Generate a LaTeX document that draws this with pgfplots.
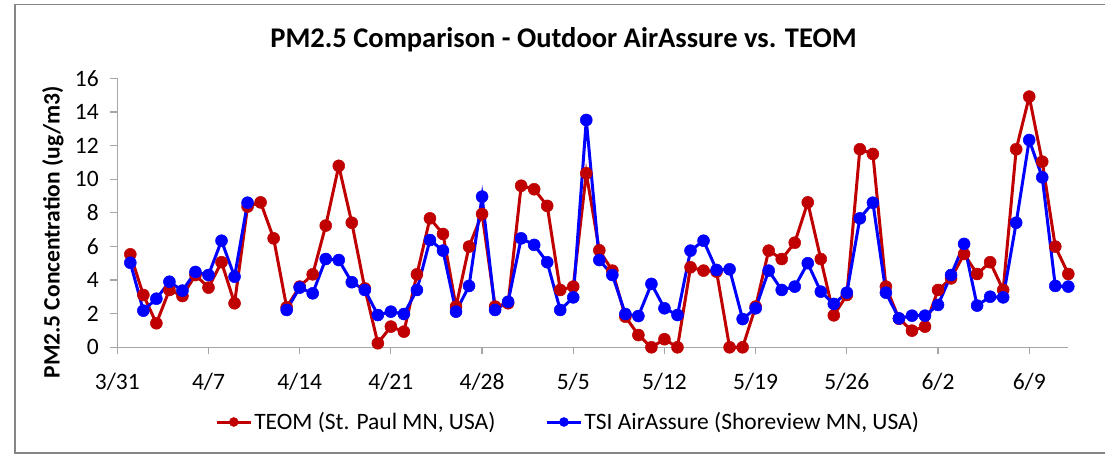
\documentclass[border=0pt]{standalone}
\usepackage{fontspec}
\setmainfont{Carlito}
\usepackage{pgfplots}
\pgfplotsset{compat=1.18}
\definecolor{teom}{HTML}{C00000}
\definecolor{tsi}{HTML}{0000FF}
\definecolor{axgray}{HTML}{A6A6A6}
\definecolor{framegray}{HTML}{868686}
\begin{document}
\begin{tikzpicture}[x=1pt,y=1pt]
\path[use as bounding box] (0,0) rectangle (1105,455);
\draw[framegray,line width=1.5pt] (1112,450.7) -- (15,450.7) -- (15,2) -- (1112,2);
\node[font=\bfseries\fontsize{28.5}{34}\selectfont] at (563.5,415) {PM2.5 Comparison - Outdoor AirAssure vs. TEOM};
\begin{axis}[
  at={(117.3pt,107.7pt)}, anchor=south west,
  scale only axis, width=951pt, height=269pt,
  xmin=0, xmax=73, ymin=0, ymax=16,
  clip=false,
  axis lines*=left,
  axis line style={axgray, line width=1.2pt},
  xtick={0,7,...,70},
  xticklabels={3/31,4/7,4/14,4/21,4/28,5/5,5/12,5/19,5/26,6/2,6/9},
  ytick={0,2,...,16},
  tick align=outside, major tick length=7pt,
  tick style={axgray, line width=1.2pt},
  tick label style={font=\fontsize{23.5}{28}\selectfont},
  yticklabel style={xshift=-8pt},
  xticklabel style={yshift=-15pt},
  /pgf/number format/assume math mode=true,
  ylabel={PM2.5 Concentration (ug/m3)},
  ylabel style={font=\bfseries\fontsize{23.5}{28}\selectfont, at={(axis description cs:-0.0676,0.427)}, anchor=center},
  unbounded coords=jump,
  legend style={draw=none, fill=none, legend columns=2, font=\fontsize{23.5}{28}\selectfont,
    at={(axis description cs:0.474,-0.2777)}, anchor=center,
    /tikz/every even column/.append style={column sep=48pt}},
  legend image code/.code={\draw[mark repeat=2,mark phase=2,#1,mark size=4.5pt] plot coordinates {(0pt,0pt) (17pt,0pt) (34pt,0pt)};},
]
\addplot[teom, line width=3pt, mark=*, mark size=6pt, mark options={solid, line width=0.5pt}] coordinates {
(1,5.53) (2,3.11) (3,1.43) (4,3.41) (5,3.05) (6,4.30) (7,3.55) (8,5.06) (9,2.62) (10,8.37)
(11,8.62) (12,6.48) (13,2.38) (14,3.61) (15,4.34) (16,7.24) (17,10.79) (18,7.41) (19,3.5) (20,0.24)
(21,1.23) (22,0.93) (23,4.34) (24,7.67) (25,6.74) (26,2.42) (27,5.99) (28,7.93) (29,2.42) (30,2.62)
(31,9.61) (32,9.40) (33,8.41) (34,3.41) (35,3.61) (36,10.35) (37,5.77) (38,4.56) (39,1.82) (40,0.73)
(41,0.0) (42,0.48) (43,0.0) (44,4.76) (45,4.56) (46,4.5) (47,0.0) (48,0.0) (49,2.42) (50,5.75)
(51,5.25) (52,6.22) (53,8.62) (54,5.25) (55,1.90) (56,3.11) (57,11.78) (58,11.50) (59,3.61) (60,1.7)
(61,0.99) (62,1.23) (63,3.41) (64,4.10) (65,5.55) (66,4.36) (67,5.06) (68,3.41) (69,11.78) (70,14.91)
(71,11.04) (72,5.99) (73,4.36)
};
\addlegendentry{TEOM (St. Paul MN, USA)}
\addplot[tsi, line width=3pt, mark=*, mark size=6pt, mark options={solid, line width=0.5pt}] coordinates {
(1,5.03) (2,2.18) (3,2.89) (4,3.90) (5,3.37) (6,4.48) (7,4.30) (8,6.34) (9,4.20) (10,8.60)
(11,nan) (12,nan) (13,2.22) (14,3.55) (15,3.21) (16,5.25) (17,5.19) (18,3.87) (19,3.41) (20,1.92)
(21,2.12) (22,1.98) (23,3.41) (24,6.38) (25,5.75) (26,2.12) (27,3.65) (28,8.96) (29,2.22) (30,2.71)
(31,6.48) (32,6.09) (33,5.06) (34,2.22) (35,2.97) (36,13.52) (37,5.19) (38,4.30) (39,1.98) (40,1.86)
(41,3.77) (42,2.32) (43,1.92) (44,5.75) (45,6.34) (46,4.60) (47,4.64) (48,1.68) (49,2.32) (50,4.56)
(51,3.41) (52,3.61) (53,5.00) (54,3.31) (55,2.58) (56,3.25) (57,7.67) (58,8.60) (59,3.25) (60,1.72)
(61,1.88) (62,1.88) (63,2.52) (64,4.30) (65,6.15) (66,2.48) (67,3.01) (68,2.97) (69,7.41) (70,12.33)
(71,10.11) (72,3.65) (73,3.61)
};
\addlegendentry{TSI AirAssure (Shoreview MN, USA)}
\end{axis}
\end{tikzpicture}
\end{document}
